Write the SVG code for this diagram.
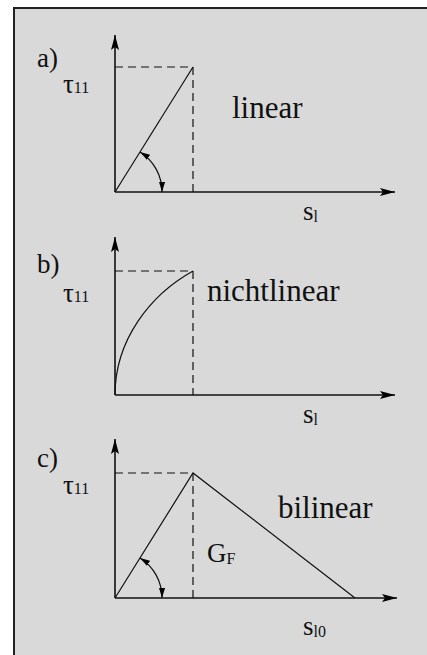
<svg xmlns="http://www.w3.org/2000/svg" width="427" height="655" viewBox="0 0 427 655">
  <defs>
    <style>
      .ax { stroke: #111; stroke-width: 1.6; fill: none; }
      .ln { stroke: #111; stroke-width: 1.2; fill: none; }
      .dash { stroke: #111; stroke-width: 1.2; stroke-dasharray: 8 5; fill: none; }
      .arc { stroke: #111; stroke-width: 1.2; fill: none; marker-start: url(#sm); marker-end: url(#sm); }
      text { font-family: "Liberation Serif", "Times New Roman", serif; fill: #111; }
      .lab { font-size: 27px; }
      .big { font-size: 31px; }
      .sub { font-size: 16px; }
    </style>
    <marker id="ah" viewBox="0 0 15 8" refX="15" refY="4" markerWidth="15" markerHeight="8" markerUnits="userSpaceOnUse" orient="auto">
      <path d="M0,0 L15,4 L0,8 L3,4 Z" fill="#000"/>
    </marker>
    <marker id="sm" viewBox="0 0 10 6" refX="10" refY="3" markerWidth="10" markerHeight="6" markerUnits="userSpaceOnUse" orient="auto-start-reverse">
      <path d="M0,0 L10,3 L0,6 Z" fill="#000"/>
    </marker>
  </defs>

  <rect x="0" y="0" width="427" height="655" fill="#ffffff"/>
  <rect id="frame" x="14" y="8" width="420" height="660" fill="#d9d9d9" stroke="#222" stroke-width="2"/>

  <g id="panel-a">
    <path class="dash" d="M115,67 H193 V192"/>
    <path class="ln" d="M115,192 L193,67"/>
    <path class="arc" d="M140,152 A47,47 0 0 1 162,192"/>
    <text class="lab" x="37" y="67">a)</text>
    <text class="lab" x="63" y="93">τ<tspan class="sub">11</tspan></text>
    <text class="big" x="232" y="118">linear</text>
    <text class="lab" x="303" y="220">s<tspan class="sub" dy="2">l</tspan></text>
  </g>

  <g id="panel-b">
    <path class="dash" d="M115,271 H193 V395"/>
    <path class="ln" d="M115,395 C115,340 150,295 193,271"/>
    <text class="lab" x="37" y="273">b)</text>
    <text class="lab" x="63" y="302">τ<tspan class="sub">11</tspan></text>
    <text class="big" x="207" y="301">nichtlinear</text>
    <text class="lab" x="303" y="423">s<tspan class="sub" dy="2">l</tspan></text>
  </g>

  <g id="panel-c">
    <path class="dash" d="M115,473 H193 V598"/>
    <path class="ln" d="M115,598 L193,473 L355,598"/>
    <path class="arc" d="M140,558 A47,47 0 0 1 162,598"/>
    <text class="lab" x="37" y="467">c)</text>
    <text class="lab" x="63" y="494">τ<tspan class="sub">11</tspan></text>
    <text class="big" x="278" y="518">bilinear</text>
    <text class="lab" x="207" y="562">G<tspan class="sub" dy="2">F</tspan></text>
    <text class="lab" x="303" y="635">s<tspan class="sub" dy="2">l0</tspan></text>
  </g>

  <g id="connectors">
    <line class="ax" x1="115" y1="192" x2="115" y2="35" marker-end="url(#ah)"/>
    <line class="ax" x1="115" y1="192" x2="395" y2="192" marker-end="url(#ah)"/>
    <line class="ax" x1="115" y1="395" x2="115" y2="237" marker-end="url(#ah)"/>
    <line class="ax" x1="115" y1="395" x2="395" y2="395" marker-end="url(#ah)"/>
    <line class="ax" x1="115" y1="598" x2="115" y2="439" marker-end="url(#ah)"/>
    <line class="ax" x1="115" y1="598" x2="397" y2="598" marker-end="url(#ah)"/>
  </g>
</svg>
